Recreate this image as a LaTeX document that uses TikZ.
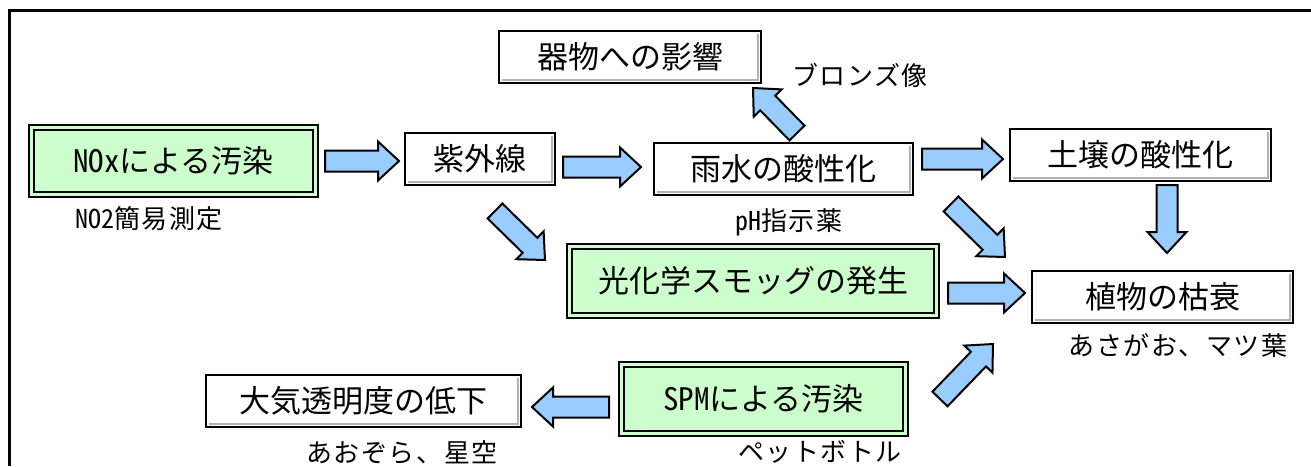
\documentclass[tikz,border=0pt]{standalone}
\usepackage{fontspec}
\setmainfont{Noto Sans CJK JP}
\newfontfamily\hw{Noto Sans CJK JP}[RawFeature=+hwid]
\newfontfamily\smallfam{Noto Sans CJK JP}[LetterSpace=6]
\usetikzlibrary{calc}
\definecolor{boxgreen}{HTML}{CCFFCC}
\definecolor{arrblue}{HTML}{99CCFF}
\newcommand\blockarrow[2]{%
  \pgfpointdiff{\pgfpointanchor{#1}{center}}{\pgfpointanchor{#2}{center}}%
  \pgfgetlastxy\baX\baY
  \pgfmathsetmacro\baAng{atan2(\baY,\baX)}%
  \pgfmathsetmacro\baLen{veclen(\baX,\baY)}%
  \draw[blockarr,shift={(#1)},rotate=\baAng] (0,-10.5) -- (\baLen-21,-10.5) -- (\baLen-21,-19.5) -- (\baLen,0) -- (\baLen-21,19.5) -- (\baLen-21,10.5) -- (0,10.5) -- cycle;}
\begin{document}
\begin{tikzpicture}[x=1pt,y=1pt,
  bigtext/.style={font=\fontsize{31}{31}\selectfont},
  smalltext/.style={font=\smallfam\fontsize{26}{26}\selectfont, inner sep=0},
  plainbox/.style={bigtext, draw, line width=2.2pt, fill=white, inner sep=0,
    path picture={\draw[line width=2.5pt, black!30]
      ([shift={(2.5pt,2.8pt)}]path picture bounding box.south west) --
      ([shift={(-2.8pt,2.8pt)}]path picture bounding box.south east) --
      ([shift={(-2.8pt,-2.5pt)}]path picture bounding box.north east);}},
  greenbox/.style={bigtext, draw, line width=2.5pt, fill=boxgreen, inner sep=0,
    path picture={\draw[line width=1.5pt]
      ([shift={(5pt,5pt)}]path picture bounding box.south west) rectangle
      ([shift={(-5pt,-5pt)}]path picture bounding box.north east);}},
  blockarr/.style={draw=black, line width=2pt, fill=arrblue, line join=miter}]
\useasboundingbox (0,0) rectangle (1311,-466);
\fill[white] (0,0) rectangle (1311,-466);
% frame
\draw[line width=3pt] (9,-466) -- (9,-10) -- (1311,-10);
% boxes
\node[greenbox, minimum width=289, minimum height=72] (nox) at (173.5,-161) {{\hw NOx}による汚染};
\node[plainbox, minimum width=150, minimum height=52] (uv) at (480,-159) {紫外線};
\node[plainbox, minimum width=259, minimum height=52] (rain) at (783.5,-169) {雨水の酸性化};
\node[plainbox, minimum width=262, minimum height=52] (vessel) at (630,-57) {器物への影響};
\node[plainbox, minimum width=261, minimum height=52] (soil) at (1140.5,-155) {土壌の酸性化};
\node[plainbox, minimum width=261, minimum height=52] (plant) at (1162.5,-297) {植物の枯衰};
\node[greenbox, minimum width=372, minimum height=74] (smog) at (753,-281) {光化学スモッグの発生};
\node[greenbox, minimum width=289, minimum height=74] (spm) at (763.5,-399) {{\hw SPM}による汚染};
\node[plainbox, minimum width=315, minimum height=52] (air) at (363.5,-401) {大気透明度の低下};
% labels
\node[smalltext] (lno2) at (149,-219) {{\hw NO2}簡易測定};
\node[smalltext] (lph) at (789,-222) {{\hw pH}指示薬};
\node[smalltext] (lbronze) at (860,-75) {ブロンズ像};
\node[smalltext] (lplant) at (1178,-346) {あさがお、マツ葉};
\node[smalltext] (lsky) at (402,-452) {あおぞら、星空};
\node[smalltext] (lpet) at (820,-452) {ペットボトル};
% arrow end points
\coordinate (a1s) at (325,-161);  \coordinate (a1e) at (399,-161);
\coordinate (a2s) at (563,-167);  \coordinate (a2e) at (641,-167);
\coordinate (a3s) at (922,-159);  \coordinate (a3e) at (1003,-159);
\coordinate (a4s) at (1167,-185); \coordinate (a4e) at (1167,-253);
\coordinate (a5s) at (948,-293);  \coordinate (a5e) at (1025,-293);
\coordinate (a6s) at (797,-133);  \coordinate (a6e) at (753,-88);
\coordinate (a7s) at (495,-211);  \coordinate (a7e) at (545,-260);
\coordinate (a8s) at (951,-204);  \coordinate (a8e) at (1005,-257);
\coordinate (a9s) at (940,-399);  \coordinate (a9e) at (993,-344);
\coordinate (a10s) at (609,-407); \coordinate (a10e) at (532,-407);
\blockarrow{a1s}{a1e}
\blockarrow{a2s}{a2e}
\blockarrow{a3s}{a3e}
\blockarrow{a4s}{a4e}
\blockarrow{a5s}{a5e}
\blockarrow{a6s}{a6e}
\blockarrow{a7s}{a7e}
\blockarrow{a8s}{a8e}
\blockarrow{a9s}{a9e}
\blockarrow{a10s}{a10e}
\end{tikzpicture}
\end{document}
